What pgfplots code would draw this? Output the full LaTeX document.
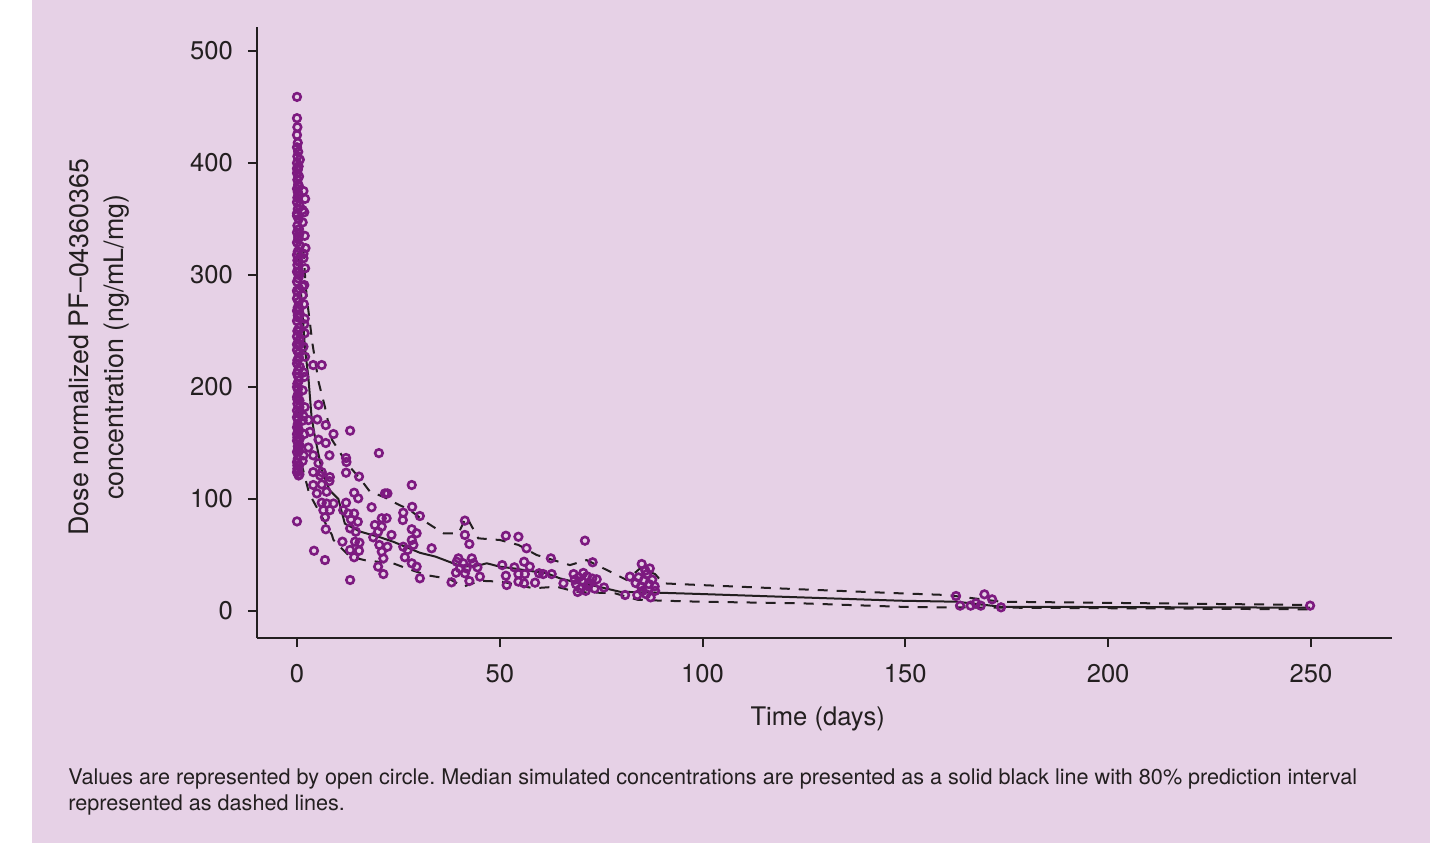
\documentclass[border=0pt]{standalone}
\usepackage{fontspec}
\setmainfont{TeX Gyre Heros}
\usepackage{pgfplots}
\pgfplotsset{compat=1.18}
\definecolor{panel}{HTML}{E6D1E6}
\definecolor{ink}{HTML}{231F20}
\definecolor{obs}{HTML}{7D1A80}

% observed dose-normalised concentrations (time in days, ng/mL/mg)
\pgfplotstableread{
x y
0.0 459
0.0 440
0.1 432
0.0 425
0.2 418
0.0 414
0.3 410
0.1 406
0.0 400
0.4 397
0.2 394
0.0 391
0.5 388
0.1 385
0.3 381
0.0 377
1.6 375
0.4 372
0.1 369
2.0 368
0.0 365
0.6 362
0.2 359
1.8 356
0.0 353
0.4 350
1.4 347
0.1 344
0.5 341
0.0 338
1.9 335
0.3 332
0.0 329
0.7 326
2.1 324
0.2 321
0.0 318
1.6 315
0.4 312
0.1 309
2.0 306
0.0 303
0.6 300
0.3 297
0.0 294
1.8 291
0.5 288
0.1 285
1.4 282
0.0 279
0.4 276
1.7 274
0.2 271
0.0 268
0.7 265
0.3 262
0.0 259
1.8 256
0.5 253
0.1 250
1.9 248
0.0 245
0.6 242
0.2 239
1.6 236
0.0 233
0.4 230
2.0 227
0.1 224
0.0 221
0.7 218
0.3 215
0.0 212
1.8 209
0.5 206
0.1 203
0.0 200
1.4 197
0.3 194
0.0 191
0.6 188
0.1 185
1.9 182
0.0 179
0.4 176
0.0 173
1.4 170
0.2 167
0.0 164
0.5 161
1.8 158
0.1 155
0.0 152
0.6 148
0.3 145
0.0 142
1.6 139
0.2 136
0.0 133
0.5 130
0.1 127
0.0 124
0.4 121
0.7 403
0.5 379
1.4 358
0.6 337
1.6 319
0.2 302
1.4 290
0.6 270
1.9 261
0.3 250
0.7 238
0.5 226
1.6 213
0.2 198
0.6 182
1.6 174
0.3 163
0.7 154
0.5 143
1.4 134
0.3 126
0.6 122
0.0 395
0.2 374
0.0 355
0.3 334
0.1 313
0.0 286
0.2 264
0.0 238
0.3 209
0.1 189
0.2 171
0.0 158
0.2 147
0.1 130
0.0 80
4.0 219.6
6.1 219.6
5.3 184
2.8 170.5
5.0 171
7.1 166
9.0 158
13.1 161
3.2 160
5.3 153
7.1 150
2.8 146
4.0 139
8.0 139
12.1 136.6
20.2 141
5.3 132
4.0 124
6.1 124
12.1 123.5
15.3 120
8.1 119.6
12.2 133
5.7 121
28.3 112.5
8.0 116
4.0 112.5
6.1 113
4.9 105
7.3 106.5
14.1 105.6
15.1 100.6
21.7 105
22.3 105
6.1 96.7
7.3 96
9.0 96
12.1 96.7
18.4 92.6
28.4 93
6.5 90
8.1 90
11.4 90
12.6 87
14.1 87
26.2 87.8
30.3 84.8
6.9 83.7
13.3 81.8
15.0 79.7
20.9 82.8
22.1 82.8
26.1 81.2
19.2 76.8
7.1 73
13.1 73.8
20.9 75.3
14.5 70.8
23.3 67.9
28.3 73
29.5 69.4
18.8 65.8
20.0 70.8
11.2 61.9
14.3 61.9
15.4 61
20.3 59
22.3 57.4
28.3 63.4
28.7 59
26.2 57.4
27.3 54.5
33.2 56
4.2 53.8
13.1 54.5
15.3 53.8
20.9 53
6.9 45.5
14.1 48
21.3 47
26.6 48
28.3 42.6
29.5 39.6
20.0 39.6
21.3 33
30.3 29.2
13.1 27.7
41.4 80.7
41.4 67.9
42.5 59.8
39.8 47
39.4 44
41.0 42.6
43.1 47
43.5 42.6
40.2 38.1
41.8 38.1
44.5 39
39.2 34.2
41.4 33.7
45.1 30.7
38.1 25.6
42.5 26.8
51.5 67.2
54.6 66.3
56.6 56
53.6 39
50.6 41
56.0 44
57.4 39.6
54.6 33
56.2 33
51.5 31.5
54.6 26.2
56.0 24.7
51.7 23.2
58.7 25.3
59.7 33.7
60.7 33
62.6 47
62.8 33
65.7 24.7
71.0 62.8
72.9 43.5
68.2 33
69.5 30
70.3 27
68.8 24
71.5 31
72.2 25
69.9 20
71.2 18
68.5 28
70.6 34
72.8 29
69.2 17
71.8 22
73.4 20
73.9 28.3
75.7 21
80.9 14.3
82.1 30.7
85.0 42
87.0 38
84.2 30
85.5 27
86.3 33
84.8 22
86.8 24
87.6 28
85.2 18
86.1 15
83.5 25
88.2 22
85.9 36
88.3 18
87.2 12.2
83.9 14.3
162.5 13.4
163.5 4.8
166.1 4.8
167.4 6.9
168.6 4.8
169.5 14.9
171.4 10.4
173.6 3.3
249.8 4.8
}\obsdata

% median of the simulations
\pgfplotstableread{
x y
0.3 320
2.0 233
2.8 209
3.6 173
4.4 156
6.1 126
8.0 108
10.2 100
11.8 78
15.5 71
20.5 65.8
23.7 61.9
30.3 52
34.2 48.5
38.5 42.6
41.0 39.6
45.1 41
46.8 42.6
50.0 39.6
53.3 38.1
57.0 36
61.6 33.7
64.8 29.2
69.8 24.7
74.0 22
79.6 17.2
88.7 16.4
99.4 15.2
124 12.2
148.7 9.2
162.6 8.3
173.6 3.8
249.8 3
}\meddata

% upper bound of the 80% prediction interval
\pgfplotstableread{
x y
1.2 340
1.6 318
2.4 280
3.2 257
3.8 239
5.3 205
6.9 182
8.6 153
10.2 144
12.2 132
15.5 118.5
18.0 106.5
21.3 102
24.5 96
27.9 90
31.1 81
36.1 69.4
39.8 69.4
41.8 84.2
44.7 64.9
50.0 63.4
54.6 59
59.1 50
63.2 45.5
67.3 41
71.4 45.5
76.4 36.6
81.3 27.7
84.6 38.1
88.3 33
90.3 24.7
99.4 23.2
124 19.4
148.7 15.8
160.2 14.3
173.6 8.3
249.8 5.4
}\updata

% lower bound of the 80% prediction interval
\pgfplotstableread{
x y
0.2 200
0.5 140
3.0 105
6.0 85
8.6 68
9.0 63.4
10.6 57.4
13.1 48.5
17.2 45
23.7 42.6
27.0 38.1
32.0 32
35.3 30
37.3 29.2
41.0 21.7
45.1 27
50.5 26.2
58.3 20.3
64.0 21.7
69.0 17
78.4 15.8
84.0 10
90.3 9.2
99.4 8.3
124 6.9
148.7 3.8
158.5 3.3
249.8 1.5
}\lowdata

\begin{document}
\frenchspacing
\begin{tikzpicture}
\fill[white] (0pt,0pt) rectangle (715pt,421.5pt);
\fill[panel] (16pt,0pt) rectangle (715pt,421.5pt);
\begin{axis}[
  at={(128.5pt,102.5pt)}, anchor=south west,
  scale only axis, width=567.5pt, height=305.5pt,
  xmin=-9.86, xmax=270, ymin=-24.1, ymax=521.4,
  axis lines=left,
  axis line style={-, line width=1.3pt, ink},
  tick align=outside, major tick length=4.5pt,
  tick style={line width=1pt, ink},
  xtick={0,50,...,250}, ytick={0,100,...,500},
  /pgf/number format/assume math mode=true,
  ticklabel style={font=\fontsize{12.8}{15}\selectfont, text=ink},
  xticklabel style={yshift=-5pt},
  yticklabel style={xshift=-4pt},
  label style={font=\fontsize{13.4}{17.5}\selectfont, text=ink},
  xlabel={Time (days)},
  xlabel style={font=\fontsize{12.8}{15}\selectfont, at={(axis description cs:0.494,-0.144)}, anchor=base},
  ylabel={Dose normalized PF\textendash04360365\\concentration (ng/mL/mg)},
  ylabel style={align=center, at={(axis description cs:-0.1388,0.476)}, anchor=center},
  clip=false,
]
\addplot[ink, line width=1pt] table {\meddata};
\addplot[ink, line width=1pt, dash pattern=on 5pt off 4.5pt] table {\updata};
\addplot[ink, line width=1pt, dash pattern=on 5pt off 4.5pt] table {\lowdata};
\addplot[only marks, mark=o, mark size=1.9pt, mark options={draw=obs, line width=1.3pt}] table {\obsdata};
\end{axis}
\node[anchor=base west, inner sep=0pt, font=\fontsize{10.8}{13}\selectfont, text=ink] at (34pt,29.5pt)
  {Values are represented by open circle. Median simulated concentrations are presented as a solid black line with 80\% prediction interval};
\node[anchor=base west, inner sep=0pt, font=\fontsize{10.8}{13}\selectfont, text=ink] at (34pt,16.5pt)
  {represented as dashed lines.};
\end{tikzpicture}
\end{document}
